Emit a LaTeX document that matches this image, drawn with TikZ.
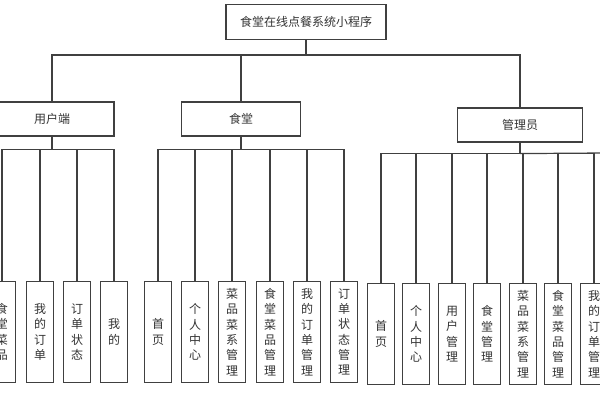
\documentclass[tikz,border=0pt]{standalone}
\usepackage{fontspec}
\setmainfont{Noto Sans CJK SC}
\begin{document}
\begin{tikzpicture}[x=0.75pt,y=-0.75pt,
  box/.style={draw=black!75,line width=0.9pt,fill=white,text=black!80,font=\fontsize{9}{10}\selectfont,inner sep=0pt},
  leaf/.style={box,minimum width=20.5pt,minimum height=76pt,align=center,font=\fontsize{9}{11.5}\selectfont},
  ln/.style={draw=black!75,line width=0.9pt}]
\useasboundingbox (0,0) rectangle (600,400);
\clip (0,0) rectangle (600,400);
\node[box,minimum width=120pt,minimum height=26pt] (root) at (306,22) {食堂在线点餐系统小程序};
\node[box,minimum width=93pt,minimum height=25.5pt] (u) at (52,119) {用户端};
\node[box,minimum width=89pt,minimum height=25.5pt] (s) at (241,119) {食堂};
\node[box,minimum width=94pt,minimum height=25.5pt] (m) at (520,125) {管理员};
\coordinate (rb) at (306,55);
\draw[ln] (root.south) -- (rb);
\draw[ln] (rb) -| (u.north);
\draw[ln] (rb) -| (s.north);
\draw[ln] (rb) -| (m.north);
% user children
\foreach \x/\t/\n in {2/食\\堂\\菜\\品/u1,40/我\\的\\订\\单/u2,77/订\\单\\状\\态/u3,114/我\\的/u4}
  {\node[leaf] (\n) at (\x,332) {\t};
   \draw[ln] (u.south) -- ++(0,13) -| (\n.north);}
\foreach \x/\t/\n in {158/首\\页/s1,195/个\\人\\中\\心/s2,232/菜\\品\\菜\\系\\管\\理/s3,270/食\\堂\\菜\\品\\管\\理/s4,307/我\\的\\订\\单\\管\\理/s5,344/订\\单\\状\\态\\管\\理/s6}
  {\node[leaf] (\n) at (\x,332) {\t};
   \draw[ln] (s.south) -- ++(0,13) -| (\n.north);}
\foreach \x/\t/\n in {381/首\\页/m1,416/个\\人\\中\\心/m2,452/用\\户\\管\\理/m3,487/食\\堂\\管\\理/m4,523/菜\\品\\菜\\系\\管\\理/m5,558/食\\堂\\菜\\品\\管\\理/m6,594/我\\的\\订\\单\\管\\理/m7}
  {\node[leaf] (\n) at (\x,334) {\t};
   \draw[ln] (m.south) -- ++(0,11) -| (\n.north);}
\coordinate (mr) at (600,153);
\draw[ln] (m.south) ++(0,11) -- (mr);
\end{tikzpicture}
\end{document}
